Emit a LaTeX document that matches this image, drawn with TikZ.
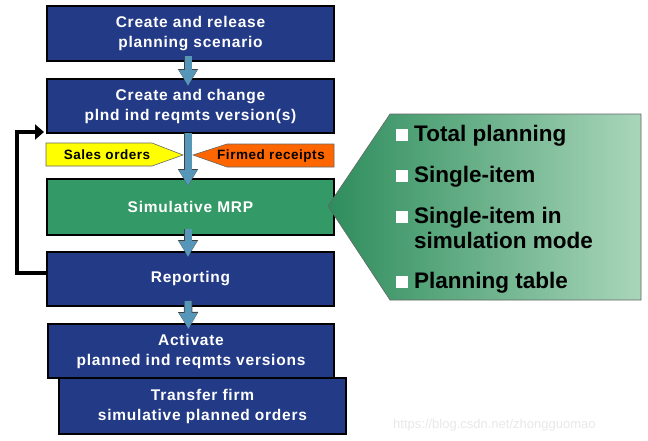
\documentclass[tikz,border=0pt]{standalone}
\usepackage{fontspec}
\setmainfont{Liberation Sans}
\usetikzlibrary{arrows.meta,positioning}
\definecolor{boxblue}{HTML}{233A86}
\definecolor{mrpgreen}{HTML}{339966}
\definecolor{arrowblue}{HTML}{5596B9}
\definecolor{salesyellow}{HTML}{FFFF00}
\definecolor{firmorange}{HTML}{FF6600}
\definecolor{calldark}{HTML}{2E8D5C}
\definecolor{calllight}{HTML}{A9D6BA}
\tikzset{
  stepbox/.style={draw=black, line width=2pt, fill=boxblue, text=white,
    minimum width=287pt, minimum height=54pt, align=center,
    font=\fontsize{15.5}{20}\selectfont\bfseries\addfontfeature{LetterSpace=5}},
  blockarrow/.style={draw=arrowblue, line width=7pt, -{Triangle[length=16pt,width=17pt]},
    preaction={draw=black!75, line width=8.5pt, -{Triangle[length=17pt,width=19pt]}}},
  inputshape/.style={draw=black!60, line width=0.6pt},
  inputtext/.style={inner sep=0pt, font=\fontsize{13.5}{15}\selectfont\bfseries\addfontfeature{LetterSpace=4}},
  item/.style={anchor=base west, inner sep=0pt, font=\fontsize{22.5}{27}\selectfont\bfseries}
}
\newcommand{\bulletsq}{\textcolor{white}{\rule{12pt}{12pt}}\hspace{6pt}}
\begin{document}
\begin{tikzpicture}[x=1pt,y=-1pt]
  \useasboundingbox (0,0) rectangle (648,440);

  % main steps
  \node[stepbox, minimum height=55pt] (b1) at (190.5,33.5) {Create and release\\planning scenario};
  \node[stepbox] (b2) at (190.5,106) {Create and change\\plnd ind reqmts version(s)};
  \node[stepbox, fill=mrpgreen, minimum height=56pt] (mrp) at (190.5,207) {Simulative MRP};
  \node[stepbox] (rep) at (190.5,279) {Reporting};
  \node[stepbox, minimum width=286pt] (act) at (191,351) {Activate\\planned ind reqmts versions};
  \node[stepbox, minimum height=56pt] (trf) at (202.5,406) {Transfer firm\\simulative planned orders};

  % inputs to the MRP run
  \draw[inputshape, fill=salesyellow] (46,143) -- (152,143) -- (183,155) -- (152,166) -- (46,166) -- cycle;
  \node[inputtext] (sales) at (107,155) {Sales orders};
  \draw[inputshape, fill=firmorange] (193,155) -- (227,144) -- (334,144) -- (334,167) -- (227,167) -- cycle;
  \node[inputtext] (firm) at (271,156) {Firmed receipts};

  % flow arrows
  \draw[blockarrow] ([xshift=-2.5pt,yshift=6pt]b1.south) -- ([xshift=-2.5pt,yshift=-8pt]b2.north);
  \draw[blockarrow] ([xshift=-2.5pt,yshift=1pt]b2.south) -- ([xshift=-2.5pt,yshift=-8pt]mrp.north);
  \draw[blockarrow] ([xshift=-2.5pt,yshift=7pt]mrp.south) -- ([xshift=-2.5pt,yshift=-6pt]rep.north);
  \draw[blockarrow] ([xshift=-2.5pt,yshift=6pt]rep.south) -- ([xshift=-2.5pt,yshift=-6pt]act.north);

  % loop back
  \coordinate (loopstart) at ([yshift=6pt]rep.west);
  \coordinate (loopend) at ([xshift=-2pt,yshift=2pt]b2.south west);
  \draw[line width=4pt, -{Triangle[length=9pt,width=15pt]}]
    (loopstart) -- ++(-29,0) |- (loopend);

  % planning options
  \shade[left color=calldark, right color=calllight, draw=black!60, line width=0.6pt]
    ([xshift=-7pt,yshift=1pt]mrp.east) -- (390,114) -- (641,114) -- (641,300) -- (390,300) -- cycle;
  \node[item] (total) at (396,141) {\bulletsq Total planning};
  \node[item] (single) at (396,182) {\bulletsq Single-item};
  \node[item] (simmode) at (396,223) {\bulletsq Single-item in};
  \node[item] (simmode2) at (414,248) {simulation mode};
  \node[item] (table) at (396,288) {\bulletsq Planning table};

  \node[anchor=base west, inner sep=0pt, text=black!9, font=\fontsize{13}{15}\selectfont]
    (mark) at (393,428) {https://blog.csdn.net/zhongguomao};
\end{tikzpicture}
\end{document}
